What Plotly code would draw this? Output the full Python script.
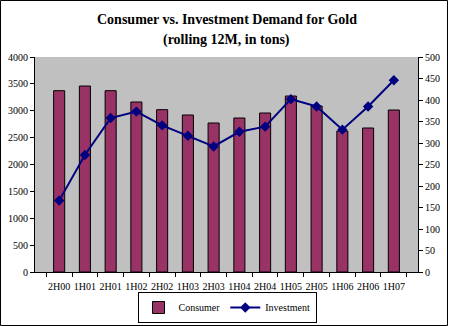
import plotly.graph_objects as go

categories = ["2H00", "1H01", "2H01", "1H02", "2H02", "1H03", "2H03",
              "1H04", "2H04", "1H05", "2H05", "1H06", "2H06", "1H07"]
consumer = [3373, 3460, 3373, 3163, 3020, 2921, 2772, 2865, 2958, 3274, 3088, 2623, 2679, 3014]
investment = [166, 272, 358, 373, 341, 317, 292, 326, 338, 402, 385, 331, 385, 446]
title_lines = ["Consumer vs. Investment Demand for Gold", "(rolling 12M, in tons)"]

W, H = 449, 326
L, R, T, B = 35, 31, 57, 54
pw, ph = W - L - R, H - T - B

serif = "Liberation Serif, Times New Roman, serif"
font = dict(family=serif, size=10, color="black")

fig = go.Figure()
fig.add_trace(go.Bar(
    x=categories, y=consumer, name="Consumer",
    marker=dict(color="#993366", line=dict(color="black", width=1)),
    width=0.43, yaxis="y",
))
fig.add_trace(go.Scatter(
    x=categories, y=investment, name="Investment", yaxis="y2",
    mode="lines+markers",
    line=dict(color="#000080", width=2),
    marker=dict(symbol="diamond", size=8, color="#000080"),
))

fig.update_layout(
    width=W, height=H,
    margin=dict(l=L, r=R, t=T, b=B, autoexpand=False),
    paper_bgcolor="white",
    plot_bgcolor="#C0C0C0",
    font=font,
    showlegend=True,
    xaxis=dict(
        type="category", showgrid=False, showline=True, linecolor="black", linewidth=1,
        ticks="outside", ticklen=4, tickcolor="black", tickson="boundaries",
        tickfont=font, tickangle=0, automargin=False, ticklabelstandoff=5,
    ),
    yaxis=dict(
        range=[0, 4000], dtick=500, showgrid=False, showline=True, linecolor="black",
        linewidth=1, ticks="outside", ticklen=4, tickcolor="black", tickfont=font,
        zeroline=False, automargin=False,
    ),
    yaxis2=dict(
        range=[0, 500], dtick=50, overlaying="y", side="right", showgrid=False,
        showline=True, linecolor="black", linewidth=1, ticks="outside", ticklen=4,
        tickcolor="black", tickfont=font, zeroline=False, automargin=False,
    ),
    legend=dict(
        orientation="h", x=(227 - L) / pw, xanchor="center",
        yref="container", y=1 - 323 / H, yanchor="bottom",
        bordercolor="black", borderwidth=1, bgcolor="white",
        font=font, itemwidth=30, tracegroupgap=0,
    ),
)

for txt, ypx in zip(title_lines, [20, 40]):
    fig.add_annotation(
        text="<b>" + txt + "</b>", xref="paper", yref="paper",
        x=(227 - L) / pw, y=(H - B - ypx) / ph, xanchor="center", yanchor="middle",
        showarrow=False, font=dict(family=serif, size=14, color="black"),
    )

# outer frame around the whole picture
fig.add_shape(
    type="rect", xref="paper", yref="paper",
    x0=(0.5 - L) / pw, x1=(W - 1.5 - L) / pw,
    y0=-(B - 0.5) / ph, y1=1 + (T - 0.5) / ph,
    line=dict(color="black", width=1), fillcolor="rgba(0,0,0,0)", layer="above",
)

fig.write_html("out.html")
